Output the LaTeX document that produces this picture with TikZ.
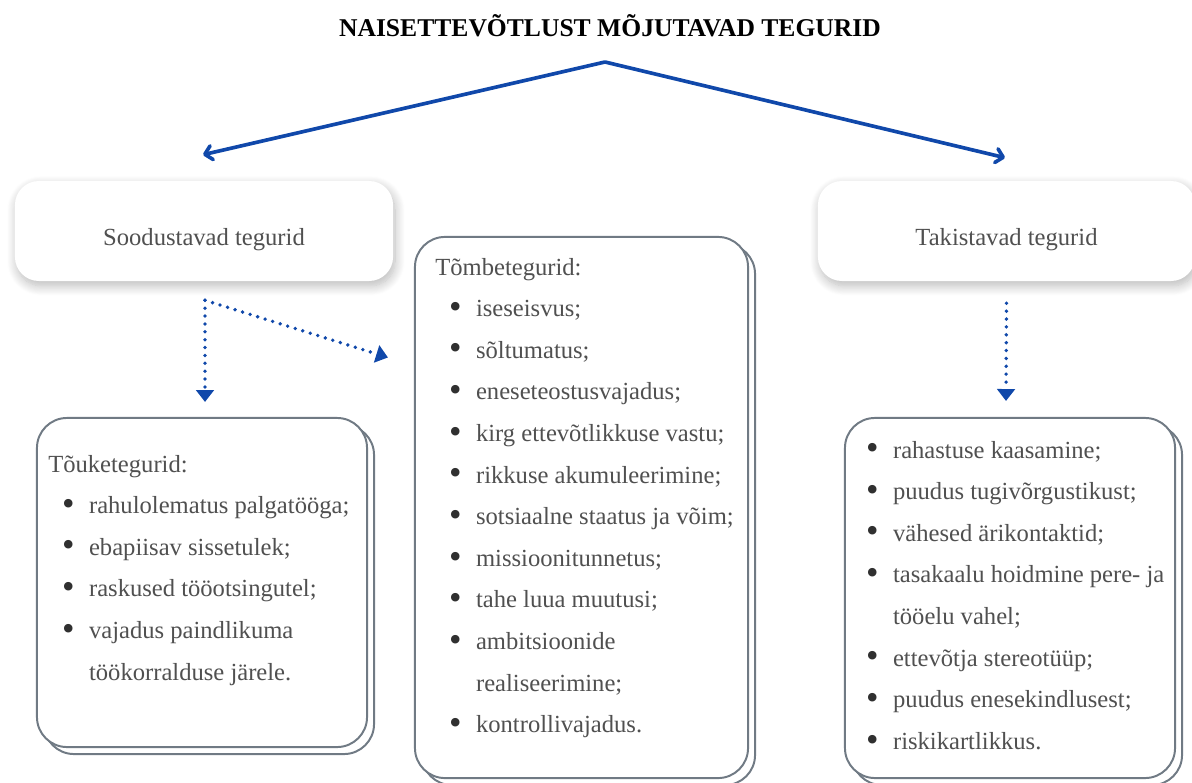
\documentclass[tikz,border=0pt]{standalone}
\usepackage{fontspec}
\usepackage{graphicx}
\setmainfont{Liberation Serif}
\usetikzlibrary{arrows.meta, positioning, shadows.blur, calc}
\definecolor{bleu}{RGB}{16,72,170}
\definecolor{gris}{RGB}{80,80,80}
\definecolor{bord}{RGB}{112,122,132}
\newcommand{\puce}{\hspace*{9.8pt}\makebox[19.2pt][l]{\raisebox{-1.2pt}{\color{gris!60!black}\scalebox{1.45}{\textbullet}}}}
\newcommand{\suite}{\hspace*{29pt}}

\begin{document}
\begin{tikzpicture}[x=0.025cm, y=-0.025cm,
    tete/.style={rounded corners=0.6cm, fill=white, minimum width=9.45cm, minimum height=2.5cm,
      blur shadow={shadow xshift=0.05cm, shadow yshift=-0.12cm, shadow opacity=28,
        shadow blur radius=0.25cm, shadow blur steps=12},
      text=gris, text height=25pt, text depth=4pt, font=\fontsize{17.5}{20}\selectfont},
    carte/.style={draw=bord, line width=1.4pt, rounded corners=0.75cm, fill=white},
    liste/.style={anchor=base west, inner sep=0pt, text=gris, font=\fontsize{17.5}{29.6}\selectfont},
    fleche/.style={bleu, line width=2.6pt, -{Straight Barb[length=5pt,width=10pt,round]}},
    pointille/.style={bleu, line width=2.7pt, line cap=round, dash pattern=on 0pt off 5.6pt,
      -{Triangle[length=8.5pt,width=12.5pt]}}]
  \useasboundingbox (0,0) rectangle (1192,783);
  % titre
  \node[anchor=base, font=\fontsize{18.2}{20}\selectfont\bfseries] (titre) at (610,36)
    {NAISETTEVÕTLUST MÕJUTAVAD TEGURID};
  \coordinate (sommet) at (605,62);
  % deux groupes
  \node[tete] (sood) at (204,231) {Soodustavad tegurid};
  \node[tete, minimum width=9.425cm] (taki) at (1006.5,231) {Takistavad tegurid};
  % cartes doublees
  \foreach \nom/\cx/\cy/\w/\h in {touke/202/582.5/8.25/8.225, tombe/581.5/507.5/8.325/13.525,
      takil/1010/598/8.25/9}{
    \node[carte, minimum width=\w cm, minimum height=\h cm] (\nom-dos) at (\cx+7,\cy+7) {};
    \node[carte, minimum width=\w cm, minimum height=\h cm] (\nom) at (\cx,\cy) {};
  }
  % textes
  \node[liste] (toukeTxt) at (48,472) {\parbox[t]{8cm}{Tõuketegurid:\\
    \puce rahulolematus palgatööga;\\
    \puce ebapiisav sissetulek;\\
    \puce raskused tööotsingutel;\\
    \puce vajadus paindlikuma\\
    \suite töökorralduse järele.}};
  \node[liste] (tombeTxt) at (435,275) {\parbox[t]{8cm}{Tõmbetegurid:\\
    \puce iseseisvus;\\
    \puce sõltumatus;\\
    \puce eneseteostusvajadus;\\
    \puce kirg ettevõtlikkuse vastu;\\
    \puce rikkuse akumuleerimine;\\
    \puce sotsiaalne staatus ja võim;\\
    \puce missioonitunnetus;\\
    \puce tahe luua muutusi;\\
    \puce ambitsioonide\\
    \suite realiseerimine;\\
    \puce kontrollivajadus.}};
  \node[liste] (takilTxt) at (852,458) {\parbox[t]{8cm}{%
    \puce rahastuse kaasamine;\\
    \puce puudus tugivõrgustikust;\\
    \puce vähesed ärikontaktid;\\
    \puce tasakaalu hoidmine pere- ja\\
    \suite tööelu vahel;\\
    \puce ettevõtja stereotüüp;\\
    \puce puudus enesekindlusest;\\
    \puce riskikartlikkus.}};
  % fleches
  \draw[fleche] (sommet) -- ($(sood.north)+(-1,-26)$);
  \draw[fleche] (sommet) -- ($(taki.north)+(-1.5,-23)$);
  \coordinate (depart) at ($(sood.south)+(1,19)$);
  \draw[pointille] (depart) -- ($(touke.north)+(3,-15)$);
  \draw[pointille] (depart) -- ($(tombe.west)+(-26,-150)$);
  \draw[pointille] ($(taki.south)+(0,22)$) -- ($(takil.north)+(-4,-16)$);
\end{tikzpicture}
\end{document}
